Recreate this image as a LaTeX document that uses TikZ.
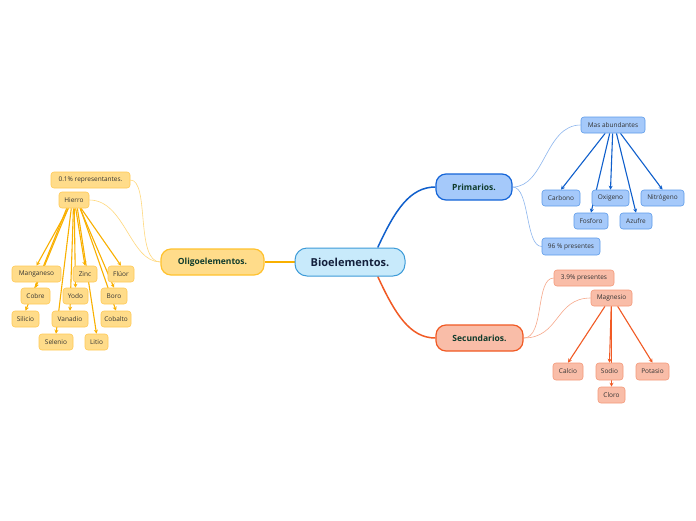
\documentclass[tikz,border=0pt]{standalone}
\usepackage{fontspec}
\setmainfont{Open Sans}
\usetikzlibrary{arrows.meta,backgrounds,calc}
\definecolor{cfill}{HTML}{C8EAFB}\definecolor{cdraw}{HTML}{3D9BD8}\definecolor{ctext}{HTML}{14213D}
\definecolor{bfill}{HTML}{A5C9FA}\definecolor{bdraw}{HTML}{1565D8}\definecolor{bkid}{HTML}{5D9BEA}\definecolor{bline}{HTML}{0F5FCC}\definecolor{bthin}{HTML}{8DB6EE}
\definecolor{sfill}{HTML}{F9BDA8}\definecolor{sdraw}{HTML}{F15A24}\definecolor{skid}{HTML}{F4997A}\definecolor{sline}{HTML}{F15A24}\definecolor{sthin}{HTML}{F7A98C}
\definecolor{ofill}{HTML}{FFDC8A}\definecolor{odraw}{HTML}{FFC22E}\definecolor{okid}{HTML}{FFCA55}\definecolor{oline}{HTML}{F9B000}\definecolor{othin}{HTML}{FFD97F}
\definecolor{ttext}{HTML}{0F3B2C}\definecolor{ktext}{HTML}{333333}
\tikzset{
  base/.style={inner sep=0pt, align=center},
  central/.style={base, fill=cfill, draw=cdraw, line width=1pt, rounded corners=12pt, text=ctext, font=\fontsize{11}{13}\selectfont\bfseries},
  branch/.style={base, line width=1.2pt, rounded corners=10pt, text=ttext, font=\fontsize{8.5}{10}\selectfont\bfseries},
  kid/.style={base, line width=0.6pt, rounded corners=3pt, text=ktext, font=\fontsize{6.5}{8}\selectfont},
  bbr/.style={branch, fill=bfill, draw=bdraw},
  sbr/.style={branch, fill=sfill, draw=sdraw},
  obr/.style={branch, fill=ofill, draw=odraw},
  bk/.style={kid, fill=bfill, draw=bkid},
  sk/.style={kid, fill=sfill, draw=skid},
  ok/.style={kid, fill=ofill, draw=okid},
  barr/.style={draw=bline, line width=1.1pt, -{Stealth[length=4pt,width=4pt]}},
  sarr/.style={draw=sline, line width=1.1pt, -{Stealth[length=4pt,width=4pt]}},
  oarr/.style={draw=oline, line width=1.1pt, -{Stealth[length=4pt,width=4pt]}},
}
\newcommand{\bx}[7]{\node[#6, minimum width=#4pt, minimum height=#5pt] (#1) at (#2,#3) {#7};}
\newcommand{\fan}[3]{\draw[#1] let \p1=(#3.north), \p2=(#2.south) in ({\x2+0.15*(\x1-\x2)},\y2) -- (#3.north);}
\begin{document}
\begin{tikzpicture}[x=1pt,y=-1pt]
\useasboundingbox (0,0) rectangle (696,520);
% central and branches
\bx{c}{350}{262}{110}{28}{central}{Bioelementos.}
\bx{p}{474}{187}{76}{26}{bbr}{Primarios.}
\bx{s}{479.5}{338}{87}{26}{sbr}{Secundarios.}
\bx{o}{212.5}{262}{103}{26}{obr}{Oligoelementos.}
% primarios
\bx{ma}{613}{125}{64}{16}{bk}{Mas abundantes}
\bx{ca}{561}{198}{38}{16}{bk}{Carbono}
\bx{ox}{610.5}{198}{37}{16}{bk}{Oxigeno}
\bx{ni}{662.5}{198}{43}{16}{bk}{Nitrógeno}
\bx{fo}{591}{221}{34}{16}{bk}{Fosforo}
\bx{az}{636}{221}{32}{16}{bk}{Azufre}
\bx{np}{571}{246.5}{58}{17}{bk}{96 \% presentes}
% secundarios
\bx{tp}{584}{278}{60}{16}{sk}{3.9\% presentes}
\bx{mg}{611.5}{298}{41}{16}{sk}{Magnesio}
\bx{cl}{568}{371.5}{30}{17}{sk}{Calcio}
\bx{so}{609.5}{371.5}{27}{17}{sk}{Sodio}
\bx{pt}{652.5}{371.5}{33}{17}{sk}{Potasio}
\bx{cr}{611.5}{395}{27}{16}{sk}{Cloro}
% oligoelementos
\bx{rp}{90.5}{180}{79}{16}{ok}{0.1\% representantes.}
\bx{hi}{74}{200}{30}{16}{ok}{Hierro}
\bx{mn}{36.5}{274}{49}{16}{ok}{Manganeso}
\bx{zn}{85}{274}{24}{16}{ok}{Zinc}
\bx{fl}{121}{274}{26}{16}{ok}{Flúor}
\bx{cu}{35.5}{296}{29}{16}{ok}{Cobre}
\bx{yo}{75.5}{296}{25}{16}{ok}{Yodo}
\bx{bo}{114}{296}{26}{16}{ok}{Boro}
\bx{si}{25.5}{319}{27}{16}{ok}{Silicio}
\bx{va}{70}{319}{36}{16}{ok}{Vanadio}
\bx{cb}{116}{319}{30}{16}{ok}{Cobalto}
\bx{se}{56}{342}{34}{16}{ok}{Selenio}
\bx{li}{96.5}{342}{23}{16}{ok}{Litio}
\begin{scope}[on background layer]
\fill[white] (0,0) rectangle (696,520);
% main branches
\draw[bline, line width=1.5pt] ($(c.north west)!0.75!(c.north east)$) .. controls (395,210) and (410,187) .. (p.west);
\draw[sline, line width=1.5pt] ($(c.south west)!0.75!(c.south east)$) .. controls (395,314) and (410,338) .. (s.west);
\draw[oline, line width=1.5pt] (c.west) -- (o.east);
% thin links
\draw[bthin, line width=0.6pt] (p.east) .. controls (545,187) and (545,125) .. (ma.west);
\draw[bthin, line width=0.6pt] (p.east) .. controls (530,187) and (525,246.5) .. (np.west);
\draw[sthin, line width=0.6pt] (s.east) .. controls (545,338) and (535,278) .. (tp.west);
\draw[sthin, line width=0.6pt] (s.east) .. controls (560,338) and (555,298) .. (mg.west);
\draw[othin, line width=0.6pt] (o.west) .. controls (135,262) and (150,180) .. (rp.east);
\draw[othin, line width=0.6pt] (o.west) .. controls (130,262) and (125,200) .. (hi.east);
% arrows
\foreach \t in {ca,ox,ni,fo,az} {\fan{barr}{ma}{\t}}
\foreach \t in {cl,so,pt,cr} {\fan{sarr}{mg}{\t}}
\foreach \t in {mn,zn,fl,cu,yo,bo,si,va,cb,se,li} {\fan{oarr}{hi}{\t}}
\end{scope}
\end{tikzpicture}
\end{document}
